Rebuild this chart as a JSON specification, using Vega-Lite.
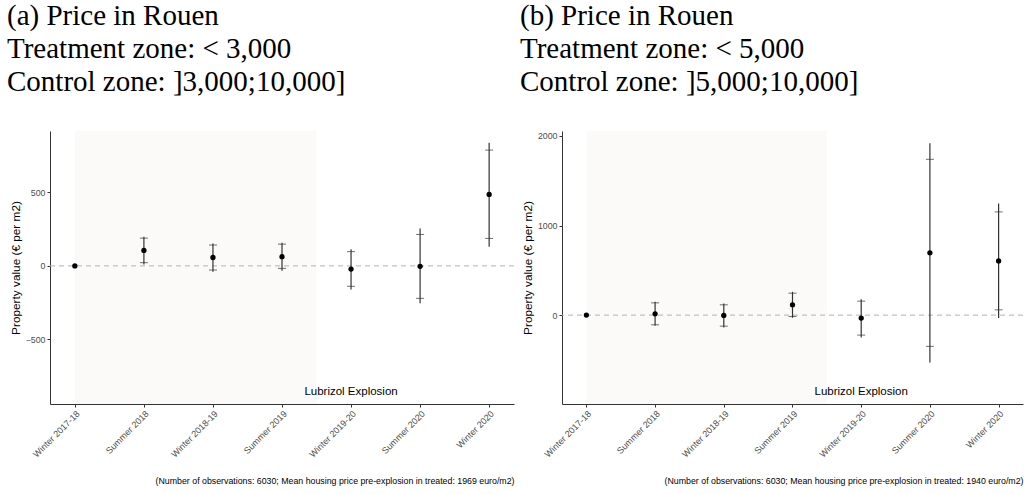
{
  "$schema": "https://vega.github.io/schema/vega-lite/v6.json",
  "padding": {"left": 7, "top": 2, "right": 0, "bottom": 0},
  "background": "white",
  "spacing": 5,
  "config": {
    "view": {"stroke": null},
    "font": "Liberation Sans",
    "axis": {"grid": false, "domainColor": "#333333", "tickColor": "#333333", "tickSize": 3, "labelColor": "#4d4d4d", "labelFontSize": 8.8, "titleFontWeight": "normal", "titleColor": "#000000"},
    "title": {"font": "Liberation Serif", "fontSize": 29, "fontWeight": "normal", "anchor": "start", "lineHeight": 33, "color": "#000000"}
  },
  "datasets": {
    "a": [
      {"t": 1, "period": "Winter 2017-18", "est": 0, "lo95": null, "hi95": null, "lo90": null, "hi90": null},
      {"t": 2, "period": "Summer 2018", "est": 105, "lo95": 10, "hi95": 199, "lo90": 22, "hi90": 189},
      {"t": 3, "period": "Winter 2018-19", "est": 57, "lo95": -40, "hi95": 153, "lo90": -28, "hi90": 142},
      {"t": 4, "period": "Summer 2019", "est": 63, "lo95": -33, "hi95": 158, "lo90": -17, "hi90": 148},
      {"t": 5, "period": "Winter 2019-20", "est": -22, "lo95": -160, "hi95": 114, "lo90": -139, "hi90": 97},
      {"t": 6, "period": "Summer 2020", "est": -3, "lo95": -255, "hi95": 255, "lo90": -221, "hi90": 214},
      {"t": 7, "period": "Winter 2020", "est": 486, "lo95": 130, "hi95": 838, "lo90": 187, "hi90": 788}
    ],
    "b": [
      {"t": 1, "period": "Winter 2017-18", "est": 0, "lo95": null, "hi95": null, "lo90": null, "hi90": null},
      {"t": 2, "period": "Summer 2018", "est": 15, "lo95": -119, "hi95": 148, "lo90": -108, "hi90": 137},
      {"t": 3, "period": "Winter 2018-19", "est": -3, "lo95": -137, "hi95": 130, "lo90": -123, "hi90": 115},
      {"t": 4, "period": "Summer 2019", "est": 115, "lo95": -30, "hi95": 260, "lo90": -15, "hi90": 245},
      {"t": 5, "period": "Winter 2019-20", "est": -33, "lo95": -249, "hi95": 178, "lo90": -223, "hi90": 156},
      {"t": 6, "period": "Summer 2020", "est": 695, "lo95": -528, "hi95": 1917, "lo90": -349, "hi90": 1739},
      {"t": 7, "period": "Winter 2020", "est": 605, "lo95": -33, "hi95": 1245, "lo90": 59, "hi90": 1152}
    ],
    "one": [{"k": 1}]
  },
  "hconcat": [
    {
      "width": 464,
      "height": 273,
      "title": {"text": ["(a) Price in Rouen", "Treatment zone: < 3,000", "Control zone: ]3,000;10,000]"], "frame": "group", "dx": -43, "offset": 34},
      "data": {"name": "a"},
      "layer": [
        {"data": {"name": "one"}, "mark": {"type": "rect", "color": "#fbfaf8"},
          "encoding": {
            "x": {"datum": 1, "type": "quantitative", "scale": {"domain": [0.64, 7.36], "nice": false, "zero": false},
              "axis": {"values": [1, 2, 3, 4, 5, 6, 7], "labelExpr": "['Winter 2017-18','Summer 2018','Winter 2018-19','Summer 2019','Winter 2019-20','Summer 2020','Winter 2020'][datum.value-1]", "labelAngle": -45, "labelAlign": "right", "labelBaseline": "top", "labelFontSize": 9, "title": "(Number of observations: 6030; Mean housing price pre-explosion in treated: 1969 euro/m2)", "titleAnchor": "end", "titleFontSize": 8.8, "titlePadding": 18}},
            "x2": {"datum": 4.5},
            "y": {"datum": -940, "type": "quantitative", "scale": {"domain": [-940, 918], "nice": false}, "axis": {"values": [-500, 0, 500], "format": "d", "title": "Property value (€ per m2)", "titleFontSize": 11.8, "titlePadding": 4}},
            "y2": {"datum": 918}
          }},
        {"data": {"name": "one"}, "mark": {"type": "rule", "color": "#b3b3b3", "strokeDash": [5, 4], "strokeWidth": 1}, "encoding": {"y": {"datum": 0, "type": "quantitative"}}},
        {"mark": {"type": "rule", "color": "#333333", "strokeWidth": 1.2}, "encoding": {"x": {"field": "t", "type": "quantitative"}, "y": {"field": "lo95", "type": "quantitative"}, "y2": {"field": "hi95"}}},
        {"mark": {"type": "tick", "orient": "horizontal", "color": "#333333", "size": 8, "thickness": 1}, "encoding": {"x": {"field": "t", "type": "quantitative"}, "y": {"field": "lo90", "type": "quantitative"}}},
        {"mark": {"type": "tick", "orient": "horizontal", "color": "#333333", "size": 8, "thickness": 1}, "encoding": {"x": {"field": "t", "type": "quantitative"}, "y": {"field": "hi90", "type": "quantitative"}}},
        {"mark": {"type": "point", "filled": true, "color": "#000000", "size": 28, "opacity": 1}, "encoding": {"x": {"field": "t", "type": "quantitative"}, "y": {"field": "est", "type": "quantitative"}}},
        {"data": {"name": "one"}, "mark": {"type": "text", "text": "Lubrizol Explosion", "fontSize": 11.5, "fontWeight": "normal", "color": "#000000"}, "encoding": {"x": {"datum": 5, "type": "quantitative"}, "y": {"datum": -855, "type": "quantitative"}}}
      ]
    },
    {
      "width": 461,
      "height": 273,
      "title": {"text": ["(b) Price in Rouen", "Treatment zone: < 5,000", "Control zone: ]5,000;10,000]"], "frame": "group", "dx": -42, "offset": 34},
      "data": {"name": "b"},
      "layer": [
        {"data": {"name": "one"}, "mark": {"type": "rect", "color": "#fbfaf8"},
          "encoding": {
            "x": {"datum": 1, "type": "quantitative", "scale": {"domain": [0.645, 7.355], "nice": false, "zero": false},
              "axis": {"values": [1, 2, 3, 4, 5, 6, 7], "labelExpr": "['Winter 2017-18','Summer 2018','Winter 2018-19','Summer 2019','Winter 2019-20','Summer 2020','Winter 2020'][datum.value-1]", "labelAngle": -45, "labelAlign": "right", "labelBaseline": "top", "labelFontSize": 9, "title": "(Number of observations: 6030; Mean housing price pre-explosion in treated: 1940 euro/m2)", "titleAnchor": "end", "titleFontSize": 8.8, "titlePadding": 18}},
            "x2": {"datum": 4.5},
            "y": {"datum": -992, "type": "quantitative", "scale": {"domain": [-992, 2055], "nice": false}, "axis": {"values": [0, 1000, 2000], "format": "d", "title": "Property value (€ per m2)", "titleFontSize": 11.8, "titlePadding": 4}},
            "y2": {"datum": 2055}
          }},
        {"data": {"name": "one"}, "mark": {"type": "rule", "color": "#b3b3b3", "strokeDash": [5, 4], "strokeWidth": 1}, "encoding": {"y": {"datum": 0, "type": "quantitative"}}},
        {"mark": {"type": "rule", "color": "#333333", "strokeWidth": 1.2}, "encoding": {"x": {"field": "t", "type": "quantitative"}, "y": {"field": "lo95", "type": "quantitative"}, "y2": {"field": "hi95"}}},
        {"mark": {"type": "tick", "orient": "horizontal", "color": "#333333", "size": 8, "thickness": 1}, "encoding": {"x": {"field": "t", "type": "quantitative"}, "y": {"field": "lo90", "type": "quantitative"}}},
        {"mark": {"type": "tick", "orient": "horizontal", "color": "#333333", "size": 8, "thickness": 1}, "encoding": {"x": {"field": "t", "type": "quantitative"}, "y": {"field": "hi90", "type": "quantitative"}}},
        {"mark": {"type": "point", "filled": true, "color": "#000000", "size": 28, "opacity": 1}, "encoding": {"x": {"field": "t", "type": "quantitative"}, "y": {"field": "est", "type": "quantitative"}}},
        {"data": {"name": "one"}, "mark": {"type": "text", "text": "Lubrizol Explosion", "fontSize": 11.5, "fontWeight": "normal", "color": "#000000"}, "encoding": {"x": {"datum": 5, "type": "quantitative"}, "y": {"datum": -858, "type": "quantitative"}}}
      ]
    }
  ]
}
